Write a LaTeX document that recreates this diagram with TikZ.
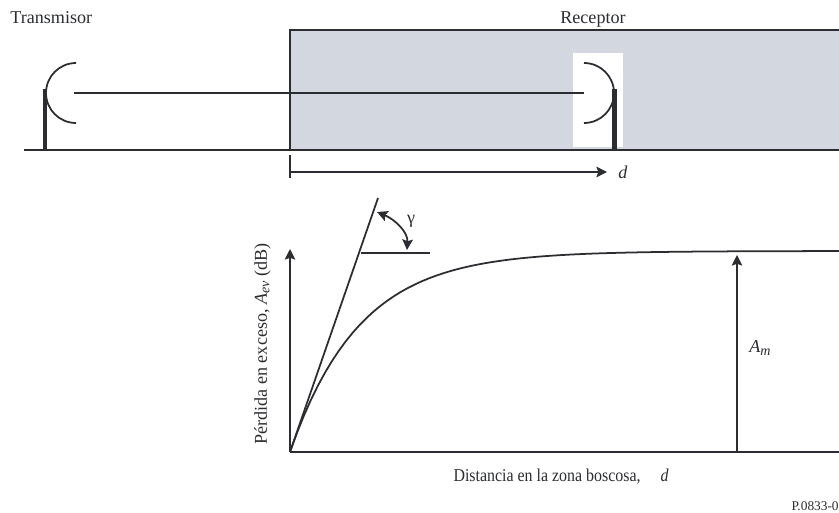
\documentclass[tikz,border=0pt]{standalone}
\usepackage{fontspec}
\setmainfont{Liberation Serif}
\newfontfamily\tightfont[FakeStretch=0.88]{Liberation Serif}
\usepackage{tikz}
\usetikzlibrary{arrows.meta}
\definecolor{inkdark}{HTML}{2B2D30}
\definecolor{forestgray}{HTML}{D3D7E0}

\begin{document}
\begin{tikzpicture}[every node/.style={font=\fontsize{10.3}{12}\selectfont,text=inkdark,inner sep=0pt},
  line/.style={draw=inkdark,line width=1pt},
  mast/.style={draw=inkdark,line width=2.5pt},
  tip/.style={-{Stealth[length=6pt,width=6pt,inset=1pt]}}]
\useasboundingbox (0,0) rectangle (16.78,10.24);
\fill[forestgray] (5.80,7.24) rectangle (16.78,9.64);
\fill[white] (11.46,7.30) rectangle (12.46,9.18);
\draw[line] (5.80,7.24) -- (5.80,9.64) -- (16.78,9.64);
\draw[line] (0.48,7.24) -- (16.78,7.24);
\node[anchor=west] (tx) at (0.20,9.88) {Transmisor};
\node (rx) at (11.86,9.84) {Receptor};
% antennas
\draw[mast] (0.90,7.24) -- (0.90,8.46);
\draw[line] (1.52,8.98) arc (90:270:0.6);
\draw[mast] (12.29,7.24) -- (12.29,8.46);
\draw[line] (11.68,8.98) arc (90:-90:0.6);
\coordinate (beamA) at (1.48,8.38);
\coordinate (beamB) at (11.68,8.38);
\draw[line] (beamA) -- (beamB);
% distance
\draw[line] (5.80,7.14) -- (5.80,6.68);
\coordinate (distA) at (5.80,6.80);
\node[anchor=west] (dtop) at (12.36,6.80) {\textit{d}};
\draw[line,tip] (distA) -- (12.14,6.80);
% axes
\coordinate (origin) at (5.80,1.20);
\coordinate (ytop) at (5.80,5.26);
\coordinate (xend) at (16.78,1.20);
\draw[line,tip] (origin) -- (ytop);
\draw[line] (origin) -- (xend);
\node[rotate=90] (ylabel) at (5.25,3.36) {Pérdida en exceso, \textit{A}\raisebox{-0.3ex}{\fontsize{8}{9}\selectfont\textit{ev}} (dB)};
\node (xlabel) at (11.22,0.71) {\tightfont Distancia en la zona boscosa,\hspace{1.1em}\textit{d}};
\node[anchor=east,font=\fontsize{7.6}{9}\selectfont] (ref) at (16.78,0.12) {P.0833-0};
% curve and tangent
\draw[line] plot[domain=0:10.98,samples=80] ({5.80+\x},{1.20+4.02*(1-exp(-0.718*\x))});
\coordinate (tangent) at (7.56,6.28);
\draw[line] (origin) -- (tangent);
\draw[line] (7.22,5.18) -- (8.60,5.18);
\draw[line,{Stealth[length=6pt,width=6pt,inset=1pt]}-{Stealth[length=6pt,width=6pt,inset=1pt]}] (7.54,6.00) .. controls (7.90,5.85) and (8.16,5.60) .. (8.14,5.24);
\node (gamma) at (8.22,5.82) {γ};
% plateau
\coordinate (peakA) at (14.74,1.20);
\coordinate (peakB) at (14.74,5.14);
\draw[line,tip] (peakA) -- (peakB);
\node (am) at (15.20,3.28) {\textit{A}\raisebox{-0.3ex}{\fontsize{8}{9}\selectfont\textit{m}}};
\end{tikzpicture}
\end{document}
